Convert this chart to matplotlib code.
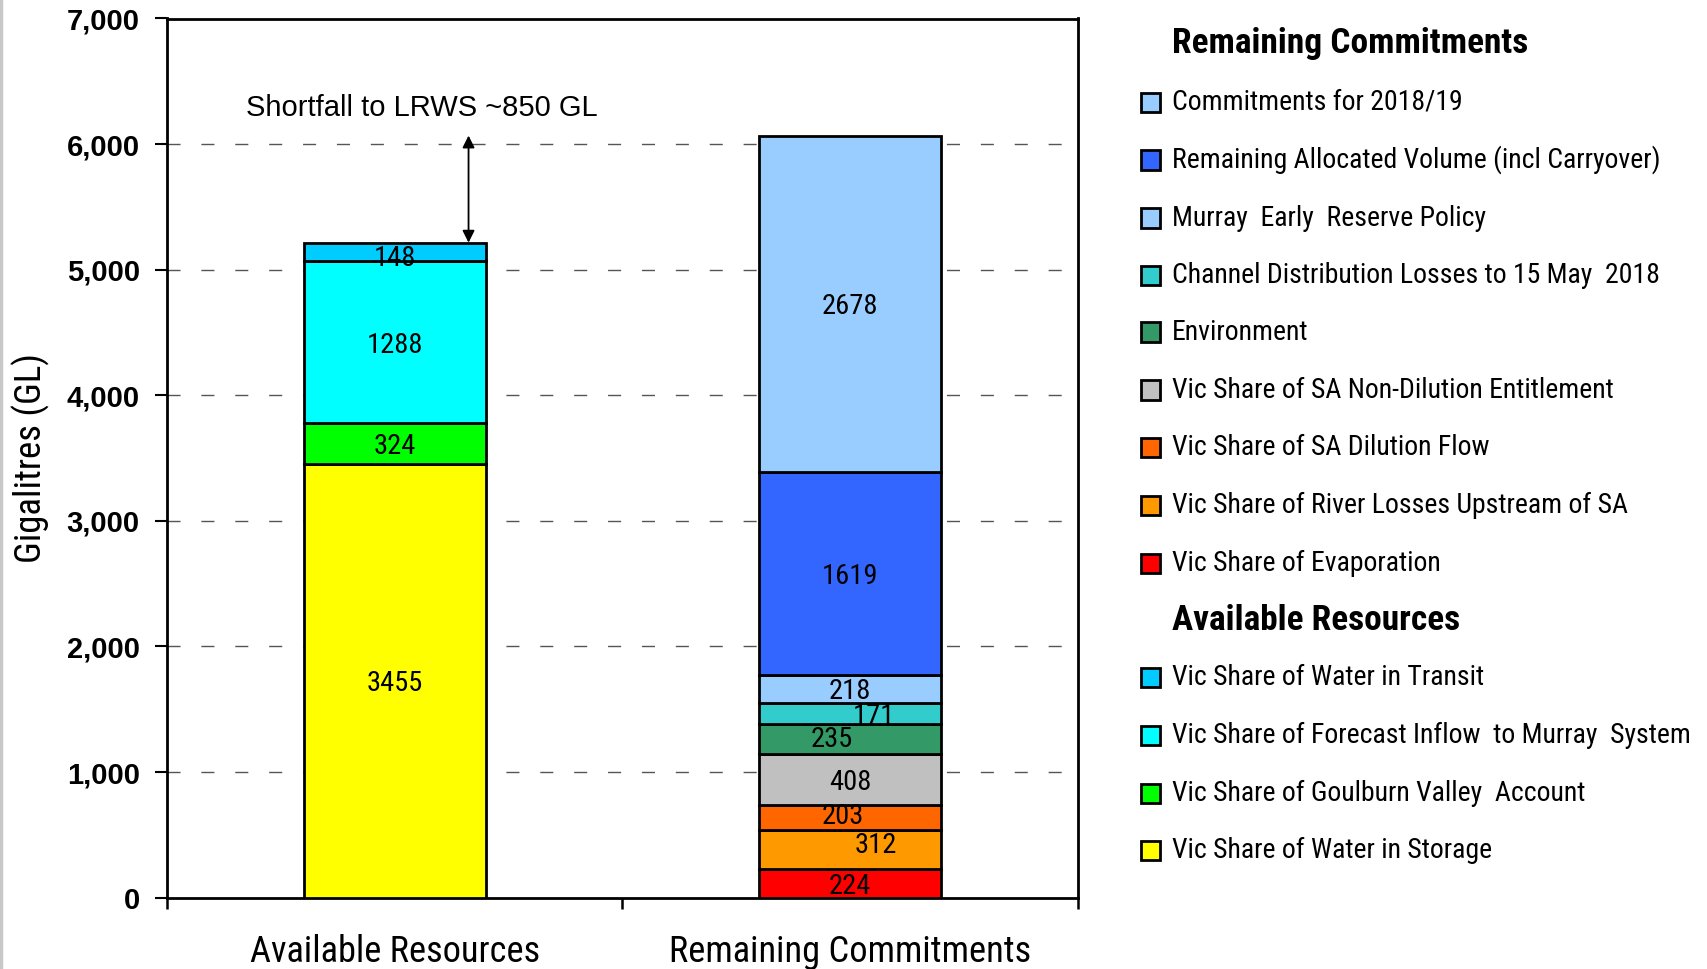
import matplotlib
matplotlib.use('Agg')
import matplotlib.pyplot as plt
from matplotlib import font_manager as fm
from matplotlib.patches import Rectangle
from matplotlib.lines import Line2D
from matplotlib.ticker import FuncFormatter

# ---------------- data ----------------
categories = ['Available Resources', 'Remaining Commitments']

avail_labels = ['Vic Share of Water in Storage',
                'Vic Share of Goulburn Valley  Account',
                'Vic Share of Forecast Inflow  to Murray  System',
                'Vic Share of Water in Transit']
avail_values = [3455, 324, 1288, 148]
avail_colors = ['#FFFF00', '#00FF00', '#00FFFF', '#00CCFF']

commit_labels = ['Vic Share of Evaporation',
                 'Vic Share of River Losses Upstream of SA',
                 'Vic Share of SA Dilution Flow',
                 'Vic Share of SA Non-Dilution Entitlement',
                 'Environment',
                 'Channel Distribution Losses to 15 May  2018',
                 'Murray  Early  Reserve Policy',
                 'Remaining Allocated Volume (incl Carryover)',
                 'Commitments for 2018/19']
commit_values = [224, 312, 203, 408, 235, 171, 218, 1619, 2678]
commit_colors = ['#FF0000', '#FF9900', '#FF6600', '#C0C0C0', '#339966',
                 '#33CCCC', '#99CCFF', '#3366FF', '#99CCFF']

y_ticks = [0, 1000, 2000, 3000, 4000, 5000, 6000, 7000]
shortfall_text = 'Shortfall to LRWS ~850 GL'

# label nudges (layout only)
avail_dx = [0, 0, 0, 0]
avail_dy = [0, 0, 0, -30]
commit_dx = [0, 0.057, -0.017, 0, -0.04, 0.053, 0, 0, 0]
commit_dy = [0, 55, 30, 0, 20, 0, 0, 0, 0]

# ---------------- pick a condensed font if one exists ----------------
_fonts = fm.fontManager.ttflist
_names = {f.name for f in _fonts}
NARROW_KW = None
for cand in ['Liberation Sans Narrow', 'Roboto Condensed', 'Open Sans Condensed',
             'Arial Narrow', 'DejaVu Sans Condensed', 'Noto Sans Condensed']:
    if cand in _names:
        NARROW_KW = dict(family=[cand, 'DejaVu Sans'])
        break
if NARROW_KW is None:
    for fam in ['Roboto', 'Open Sans', 'Noto Sans', 'DejaVu Sans', 'Inter']:
        if any(f.name == fam and str(f.stretch) in ('condensed', '75') for f in _fonts):
            NARROW_KW = dict(family=[fam, 'DejaVu Sans'], stretch='condensed')
            break
SCALE = 1.0
if NARROW_KW is None:
    NARROW_KW = dict(family=['Liberation Sans', 'DejaVu Sans'])
    SCALE = 0.9

ARIAL = ['Liberation Sans', 'DejaVu Sans']

def fs(x):
    return x * SCALE

# ---------------- figure ----------------
fig = plt.figure(figsize=(17.08, 9.69), dpi=100)
ax = fig.add_axes([167/1708, 1 - 897.6/969, (1078-167)/1708, (897.6-18.5)/969])

bar_w = 0.4
edge_lw = 2.0

def stack(x, values, colors, dxs, dys):
    bottom = 0
    for v, c, dx, dy in zip(values, colors, dxs, dys):
        ax.bar(x, v, bottom=bottom, width=bar_w, color=c, edgecolor='black',
               linewidth=edge_lw, zorder=3)
        ax.text(x + dx, bottom + v / 2 + dy, f'{v}', ha='center',
                va='center_baseline', fontsize=fs(20.5), color='black', zorder=4,
                **NARROW_KW)
        bottom += v
    return bottom

tot_a = stack(0, avail_values, avail_colors, avail_dx, avail_dy)
tot_c = stack(1, commit_values, commit_colors, commit_dx, commit_dy)

ax.set_xlim(-0.5, 1.5)
ax.set_ylim(0, 7000)

# grid
for yv in y_ticks[1:-1]:
    ax.axhline(yv, color='#555555', linewidth=1.0, dashes=(9.4, 15.0), zorder=1)

# y axis
ax.set_yticks(y_ticks)
ax.yaxis.set_major_formatter(FuncFormatter(lambda v, p: f'{int(v):,}'))
ax.tick_params(axis='y', direction='out', length=8.6, width=1.5, pad=11,
               labelsize=21)
for lab in ax.get_yticklabels():
    lab.set_fontweight('bold')
    lab.set_family(ARIAL)

# x axis
ax.set_xticks([0, 1])
ax.set_xticklabels(categories, fontsize=fs(26.2), **NARROW_KW)
for lab in ax.get_xticklabels():
    lab.set_va('center')
ax.tick_params(axis='x', length=0, pad=39.5)
ax.set_xticks([-0.5, 0.5, 1.5], minor=True)
ax.tick_params(axis='x', which='minor', direction='out', length=8, width=1.8)

for s in ax.spines.values():
    s.set_linewidth(2.0)
    s.set_color('black')

ax.set_ylabel('Gigalitres (GL)', fontsize=fs(26.5), **NARROW_KW)
ax.yaxis.label.set_va('center')
ax.yaxis.set_label_coords(-0.149, 0.5)

# shortfall arrow
ax.annotate('', xy=(0.162, tot_c), xytext=(0.162, tot_a),
            arrowprops=dict(arrowstyle='<|-|>', color='black', lw=1.3,
                            mutation_scale=18, shrinkA=0, shrinkB=0), zorder=5)
ax.text(0.06, 6290, shortfall_text, ha='center', va='center', fontsize=21,
        family=ARIAL)

# ---------------- legend (manual) ----------------
def px2fig(x, y):
    return x / 1708, 1 - y / 969

sq = 19
rows = []
rows.append(('header', 'Remaining Commitments', None, 43.6))
commit_rows_y = [102.4, 160, 218, 275.6, 332, 390, 447.7, 505.4, 563]
for lab, col, yy in zip(commit_labels[::-1], commit_colors[::-1], commit_rows_y):
    rows.append(('item', lab, col, yy))
rows.append(('header', 'Available Resources', None, 620))
avail_rows_y = [677.5, 735, 793, 850.7]
for lab, col, yy in zip(avail_labels[::-1], avail_colors[::-1], avail_rows_y):
    rows.append(('item', lab, col, yy))

for kind, lab, col, yy in rows:
    tx, ty = px2fig(1172, yy)
    if kind == 'header':
        fig.text(tx, ty, lab, ha='left', va='center', fontsize=fs(25.5),
                 fontweight='bold', **NARROW_KW)
    else:
        fx, fy = px2fig(1141, yy + sq / 2)
        fig.add_artist(Rectangle((fx, fy), sq / 1708, sq / 969,
                                 transform=fig.transFigure, facecolor=col,
                                 edgecolor='black', linewidth=2.0))
        fig.text(tx, ty, lab, ha='left', va='center', fontsize=fs(20),
                 **NARROW_KW)

# thin gray border at left edge of the picture
fig.add_artist(Line2D([1.5/1708, 1.5/1708], [0, 1], transform=fig.transFigure,
                      color='#c8c8c8', linewidth=2.5))

fig.savefig('out.png', dpi=100)
